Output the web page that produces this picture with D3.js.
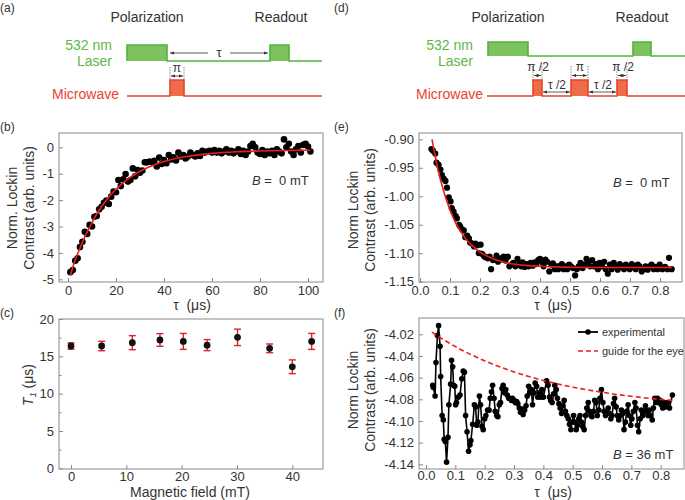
<!DOCTYPE html>
<html><head><meta charset="utf-8">
<script src="https://cdn.jsdelivr.net/npm/d3@7"></script>
<style>body{margin:0;background:#fff} text{font-family:"Liberation Sans",Arial,sans-serif}</style>
</head><body><svg id="c" width="685" height="500" xmlns="http://www.w3.org/2000/svg"></svg>
<script>
// ---------- DATA ----------
const t1Tau = [[1,-4.73],[2,-4.65],[3,-4.3],[4,-4.2],[5,-3.78],[6,-3.58],[7,-3.2],[8,-3.28],[9,-2.94],[10,-3.0],[11,-2.63],[12,-2.6],[13,-2.35],[14,-2.25],[15,-2.1],[16,-2.02],[17,-2.15],[18,-1.87],[19,-1.68],[20,-1.7],[21,-1.24],[22,-1.47],[23,-1.21],[24,-1.01],[25,-1.3],[26,-1.24],[27,-0.8],[28,-1.1],[29,-0.86],[30,-0.96],[31,-0.88],[32,-0.57],[33,-0.57],[34,-0.54],[35,-0.57],[36,-0.51],[37,-0.73],[38,-0.39],[39,-0.63],[40,-0.48],[41,-0.6],[42,-0.29],[43,-0.46],[44,-0.38],[45,-0.5],[46,-0.2],[47,-0.35],[48,-0.29],[49,-0.42],[50,-0.35],[51,-0.2],[52,-0.29],[53,-0.35],[54,-0.23],[55,-0.33],[56,-0.13],[57,-0.2],[58,-0.16],[59,-0.13],[60,-0.2],[61,-0.1],[62,-0.2],[63,-0.13],[64,-0.23],[65,-0.16],[66,-0.08],[67,-0.2],[68,-0.13],[69,-0.23],[70,-0.16],[71,-0.08],[72,-0.25],[73,-0.13],[74,-0.29],[75,-0.16],[76,0.05],[77,0.13],[78,0.0],[79,-0.2],[80,-0.25],[81,-0.1],[82,-0.29],[83,-0.16],[84,-0.23],[85,-0.13],[86,-0.29],[87,-0.08],[88,-0.16],[89,-0.23],[90,0.3],[91,0.0],[92,0.13],[93,-0.16],[94,-0.29],[95,-0.08],[96,0.05],[97,-0.2],[98,0.09],[99,0.13],[100,0.03],[101,-0.16]];
const t1FitX = [1,3,5,7.5,10,12.5,15,17.5,20,25,30,35,40,50,60,70,80,90,101];
const t1FitY = [-4.85,-4.27,-3.82,-3.30,-2.85,-2.45,-2.12,-1.83,-1.59,-1.20,-0.91,-0.70,-0.54,-0.34,-0.23,-0.17,-0.14,-0.12,-0.11];

const fieldMT = [0,5.54,11.08,16.08,20.3,24.6,30.1,35.9,40,43.5];
const t1Values = [16.38,16.38,16.83,17.19,17.0,16.5,17.54,16.07,13.6,17.0];
const t1Errors = [0.42,0.63,0.94,0.85,1.07,0.74,1.1,0.58,0.92,1.07];

const t2Tau = [[0.038,-0.917],[0.043,-0.920],[0.051,-0.925],[0.055,-0.941],[0.062,-0.945],[0.068,-0.953],[0.073,-0.963],[0.079,-0.969],[0.085,-0.973],[0.090,-0.985],[0.096,-1.002],[0.102,-1.009],[0.106,-1.021],[0.112,-1.027],[0.119,-1.035],[0.123,-1.039],[0.130,-1.050],[0.134,-1.053],[0.140,-1.058],[0.146,-1.060],[0.151,-1.072],[0.157,-1.069],[0.163,-1.074],[0.167,-1.081],[0.174,-1.083],[0.180,-1.088],[0.185,-1.083],[0.191,-1.086],[0.196,-1.100],[0.202,-1.085],[0.207,-1.101],[0.213,-1.105],[0.218,-1.107],[0.226,-1.109],[0.232,-1.106],[0.237,-1.128],[0.243,-1.112],[0.249,-1.111],[0.255,-1.104],[0.260,-1.115],[0.267,-1.109],[0.274,-1.111],[0.279,-1.106],[0.285,-1.113],[0.293,-1.106],[0.298,-1.123],[0.305,-1.120],[0.311,-1.117],[0.318,-1.123],[0.325,-1.110],[0.331,-1.119],[0.337,-1.123],[0.342,-1.116],[0.349,-1.124],[0.356,-1.119],[0.362,-1.123],[0.369,-1.117],[0.376,-1.122],[0.382,-1.116],[0.388,-1.119],[0.394,-1.112],[0.400,-1.110],[0.407,-1.116],[0.412,-1.123],[0.418,-1.111],[0.424,-1.115],[0.431,-1.132],[0.438,-1.120],[0.443,-1.118],[0.449,-1.128],[0.455,-1.123],[0.461,-1.128],[0.466,-1.122],[0.473,-1.119],[0.479,-1.128],[0.485,-1.123],[0.491,-1.128],[0.497,-1.120],[0.503,-1.123],[0.510,-1.126],[0.517,-1.139],[0.523,-1.128],[0.529,-1.123],[0.535,-1.117],[0.542,-1.126],[0.548,-1.120],[0.555,-1.110],[0.562,-1.115],[0.567,-1.123],[0.574,-1.112],[0.580,-1.123],[0.586,-1.119],[0.593,-1.128],[0.599,-1.117],[0.606,-1.123],[0.614,-1.115],[0.619,-1.128],[0.626,-1.136],[0.633,-1.120],[0.639,-1.128],[0.646,-1.117],[0.653,-1.123],[0.659,-1.129],[0.666,-1.119],[0.673,-1.123],[0.680,-1.128],[0.686,-1.120],[0.693,-1.123],[0.699,-1.128],[0.706,-1.119],[0.712,-1.123],[0.719,-1.128],[0.726,-1.120],[0.732,-1.123],[0.739,-1.132],[0.746,-1.128],[0.752,-1.123],[0.759,-1.129],[0.766,-1.123],[0.772,-1.120],[0.779,-1.128],[0.786,-1.124],[0.792,-1.128],[0.799,-1.120],[0.808,-1.128],[0.817,-1.124],[0.825,-1.128],[0.830,-1.108],[0.839,-1.128]];
const t2FitX = [0.04,0.06,0.08,0.10,0.12,0.15,0.20,0.25,0.30,0.40,0.50,0.60,0.84];
const t2FitY = [-0.900,-0.953,-0.993,-1.024,-1.048,-1.073,-1.098,-1.111,-1.118,-1.123,-1.1245,-1.125,-1.125];

const echoTau = [[0.023,-4.067],[0.025,-4.069],[0.031,-4.077],[0.034,-4.046],[0.039,-4.021],[0.043,-4.012],[0.048,-4.031],[0.050,-4.059],[0.055,-4.095],[0.059,-4.099],[0.062,-4.117],[0.066,-4.119],[0.070,-4.138],[0.075,-4.115],[0.078,-4.085],[0.084,-4.066],[0.087,-4.044],[0.091,-4.050],[0.094,-4.067],[0.098,-4.068],[0.101,-4.085],[0.104,-4.083],[0.110,-4.078],[0.116,-4.076],[0.122,-4.061],[0.127,-4.054],[0.131,-4.055],[0.135,-4.095],[0.140,-4.110],[0.145,-4.128],[0.150,-4.122],[0.153,-4.118],[0.159,-4.103],[0.165,-4.085],[0.169,-4.087],[0.173,-4.104],[0.177,-4.101],[0.182,-4.077],[0.186,-4.085],[0.191,-4.105],[0.195,-4.108],[0.200,-4.098],[0.204,-4.095],[0.210,-4.090],[0.215,-4.090],[0.219,-4.079],[0.223,-4.073],[0.227,-4.067],[0.232,-4.079],[0.236,-4.091],[0.241,-4.095],[0.245,-4.096],[0.250,-4.085],[0.254,-4.083],[0.259,-4.070],[0.263,-4.067],[0.268,-4.074],[0.272,-4.071],[0.277,-4.076],[0.282,-4.079],[0.286,-4.079],[0.291,-4.081],[0.295,-4.079],[0.300,-4.081],[0.304,-4.083],[0.309,-4.082],[0.313,-4.084],[0.318,-4.088],[0.322,-4.092],[0.327,-4.089],[0.331,-4.094],[0.336,-4.090],[0.341,-4.086],[0.345,-4.077],[0.350,-4.068],[0.354,-4.074],[0.359,-4.071],[0.363,-4.085],[0.368,-4.074],[0.372,-4.065],[0.377,-4.068],[0.381,-4.078],[0.386,-4.074],[0.391,-4.078],[0.395,-4.071],[0.400,-4.078],[0.411,-4.063],[0.416,-4.067],[0.421,-4.078],[0.425,-4.081],[0.430,-4.083],[0.435,-4.075],[0.439,-4.067],[0.444,-4.071],[0.448,-4.079],[0.453,-4.084],[0.457,-4.088],[0.462,-4.093],[0.466,-4.086],[0.471,-4.081],[0.475,-4.091],[0.480,-4.095],[0.485,-4.098],[0.489,-4.103],[0.494,-4.108],[0.498,-4.101],[0.503,-4.095],[0.507,-4.101],[0.512,-4.108],[0.516,-4.104],[0.521,-4.098],[0.525,-4.095],[0.530,-4.101],[0.534,-4.105],[0.539,-4.108],[0.544,-4.095],[0.548,-4.088],[0.553,-4.083],[0.557,-4.091],[0.562,-4.095],[0.566,-4.096],[0.571,-4.091],[0.575,-4.081],[0.580,-4.083],[0.584,-4.095],[0.589,-4.090],[0.593,-4.079],[0.598,-4.071],[0.603,-4.083],[0.607,-4.091],[0.612,-4.095],[0.616,-4.091],[0.621,-4.088],[0.625,-4.093],[0.630,-4.098],[0.634,-4.095],[0.639,-4.084],[0.643,-4.079],[0.648,-4.087],[0.652,-4.095],[0.657,-4.099],[0.662,-4.095],[0.666,-4.090],[0.671,-4.093],[0.675,-4.108],[0.680,-4.101],[0.684,-4.091],[0.689,-4.085],[0.693,-4.095],[0.698,-4.104],[0.702,-4.098],[0.707,-4.091],[0.712,-4.083],[0.716,-4.088],[0.721,-4.104],[0.725,-4.110],[0.730,-4.098],[0.734,-4.090],[0.739,-4.095],[0.743,-4.091],[0.748,-4.086],[0.752,-4.091],[0.757,-4.095],[0.761,-4.090],[0.766,-4.095],[0.771,-4.099],[0.775,-4.088],[0.780,-4.079],[0.784,-4.083],[0.789,-4.079],[0.793,-4.083],[0.798,-4.081],[0.802,-4.085],[0.807,-4.088],[0.811,-4.083],[0.816,-4.087],[0.823,-4.083],[0.830,-4.088],[0.840,-4.076]];
const guideX = [0.02,0.05,0.10,0.15,0.20,0.25,0.30,0.35,0.40,0.45,0.50,0.55,0.60,0.65,0.70,0.75,0.80,0.84];
const guideY = [-4.018,-4.0233,-4.0313,-4.0383,-4.0445,-4.0499,-4.0547,-4.0589,-4.0626,-4.0659,-4.0688,-4.0713,-4.0735,-4.0755,-4.0772,-4.0788,-4.0801,-4.0811];

const ticksB_x = [0,20,40,60,80,100], ticksB_y = [0,-1,-2,-3,-4,-5];
const ticksC_x = [0,10,20,30,40], ticksC_y = [0,5,10,15,20], ticksC_yMinor = [2.5,7.5,12.5,17.5];
const ticksE_x = [0,0.1,0.2,0.3,0.4,0.5,0.6,0.7,0.8], ticksE_y = [-0.90,-0.95,-1.00,-1.05,-1.10,-1.15];
const ticksF_x = [0,0.1,0.2,0.3,0.4,0.5,0.6,0.7,0.8], ticksF_y = [-4.02,-4.04,-4.06,-4.08,-4.10,-4.12,-4.14];

// ---------- DRAW ----------
const svg = d3.select('#c');
svg.append('rect').attr('width',685).attr('height',500).attr('fill','#fff');
const FONT = '"Liberation Sans",Arial,sans-serif';
const TXT = '#333';
const FRAME = '#8a8a8a';
const RED = '#ee1c1c';

function txt(x,y,s,o={}){
  const t = svg.append('text').attr('x',x).attr('y',y).attr('font-size',o.size||14)
    .attr('fill',o.fill||TXT).attr('text-anchor',o.anchor||'start').attr('font-family',FONT).text(s);
  if(o.rot) t.attr('transform',`rotate(-90,${x},${y})`);
  if(o.italic) t.attr('font-style','italic');
  return t;
}

function frame(f, x, y, xt, yt, xf, yf, yMinor, xPad){
  svg.append('rect').attr('x',f[0]).attr('y',f[1]).attr('width',f[2]-f[0]).attr('height',f[3]-f[1])
    .attr('fill','none').attr('stroke',FRAME).attr('stroke-width',1);
  const xa = d3.axisBottom(x).tickValues(xt).tickFormat(xf).tickSizeInner(-4).tickSizeOuter(0).tickPadding(xPad);
  const ya = d3.axisLeft(y).tickValues(yt).tickFormat(yf).tickSizeInner(-4).tickSizeOuter(0).tickPadding(5);
  const gx = svg.append('g').attr('transform',`translate(0,${f[3]})`).call(xa);
  const gy = svg.append('g').attr('transform',`translate(${f[0]},0)`).call(ya);
  if(yMinor){
    svg.append('g').attr('transform',`translate(${f[0]},0)`)
      .call(d3.axisLeft(y).tickValues(yMinor).tickFormat('').tickSizeInner(-2.5).tickSizeOuter(0))
      .call(g=>{g.select('.domain').remove(); g.selectAll('line').attr('stroke',FRAME);});
  }
  [gx,gy].forEach(g=>{
    g.select('.domain').remove();
    g.attr('font-family',FONT).attr('font-size',13);
    g.selectAll('line').attr('stroke',FRAME);
    g.selectAll('text').attr('fill',TXT);
  });
}

// ===== Panel (a) =====
const GREEN='#52b43c', GFILL='#7cc360', MW='#e8432d', MWFILL='#ec6d48';
txt(0,12,'(a)',{size:12});
txt(147,22,'Polarization',{anchor:'middle'});
txt(281,22,'Readout',{anchor:'middle'});
txt(112,50,'532 nm',{anchor:'end',fill:'#5cb845'});
txt(112,66,'Laser',{anchor:'end',fill:'#5cb845'});
txt(119,99,'Microwave',{anchor:'end',fill:MW});

function pulseTrain(base, top, x0, x1, pulses, stroke, fill){
  pulses.forEach(p=>svg.append('rect').attr('x',p[0]).attr('y',top).attr('width',p[1]-p[0]).attr('height',base-top).attr('fill',fill));
  let d = `M${x0},${base}`;
  pulses.forEach(p=>{ d += `H${p[0]}V${top}H${p[1]}V${base}`; });
  d += `H${x1}`;
  svg.append('path').attr('d',d).attr('fill','none').attr('stroke',stroke).attr('stroke-width',1.6);
}
const defs = svg.append('defs');
defs.append('marker').attr('id','ah').attr('viewBox','0 0 10 10').attr('refX',10).attr('refY',5)
  .attr('markerWidth',5).attr('markerHeight',5).attr('orient','auto-start-reverse')
  .append('path').attr('d','M0,1.5L10,5L0,8.5z').attr('fill','#333');
function arrow(x0,x1,y,both){
  const l = svg.append('line').attr('x1',x0).attr('x2',x1).attr('y1',y).attr('y2',y).attr('stroke','#333').attr('stroke-width',0.8).attr('marker-end','url(#ah)');
  if(both) l.attr('marker-start','url(#ah)');
}
function dotted(x,y0,y1){
  svg.append('line').attr('x1',x).attr('x2',x).attr('y1',y0).attr('y2',y1).attr('stroke','#555').attr('stroke-width',0.7).attr('stroke-dasharray','1.5,1.2');
}

pulseTrain(61,45,127,322,[[127,167],[270,289]],GREEN,GFILL);
arrow(208,170,53); arrow(230,268,53);
txt(219,57,'τ',{anchor:'middle',size:13});
pulseTrain(96,80,127,322,[[170,184]],MW,MWFILL);
dotted(170,67,80); dotted(184,67,80);
arrow(171,183,76,true);
txt(177,72,'π',{anchor:'middle',size:12});

// ===== Panel (d) =====
txt(334,12,'(d)',{size:12});
txt(508,22,'Polarization',{anchor:'middle'});
txt(642,22,'Readout',{anchor:'middle'});
txt(473,50,'532 nm',{anchor:'end',fill:'#5cb845'});
txt(473,66,'Laser',{anchor:'end',fill:'#5cb845'});
txt(483,99,'Microwave',{anchor:'end',fill:MW});
pulseTrain(56,42,488,685,[[488,528],[633,651]],GREEN,GFILL);
const dP = [[533,542],[571,588],[617,627]];
pulseTrain(96,80,487,685,dP,MW,MWFILL);
dP.forEach(p=>{ dotted(p[0],66,80); dotted(p[1],66,80); arrow(p[0]+1,p[1]-1,75.5,true); });
txt(538,71,'π /2',{anchor:'middle',size:12});
txt(580,71,'π',{anchor:'middle',size:12});
txt(623,71,'π /2',{anchor:'middle',size:12});
arrow(543,570,92,true); arrow(589,616,92,true);
txt(557,89,'τ /2',{anchor:'middle',size:12});
txt(603,89,'τ /2',{anchor:'middle',size:12});

// ===== Panel (b) =====
txt(0,131,'(b)',{size:12});
const fB=[59,133,323,282];
const xB = d3.scaleLinear().domain([0,100]).range([68,308]);
const yB = d3.scaleLinear().domain([0,-5]).range([147.3,279.3]);
frame(fB,xB,yB,ticksB_x,ticksB_y,d3.format('d'),d=>d===0?'0':String(d),null,4);
svg.append('g').selectAll('circle').data(t1Tau).join('circle')
  .attr('cx',d=>xB(d[0])).attr('cy',d=>yB(d[1])).attr('r',3.3).attr('fill','#000');
svg.append('path').datum(t1FitX.map((x,i)=>[x,t1FitY[i]]))
  .attr('d',d3.line().x(d=>xB(d[0])).y(d=>yB(d[1])).curve(d3.curveMonotoneX))
  .attr('fill','none').attr('stroke',RED).attr('stroke-width',1.6);
txt(17,208,'Norm. Lockin',{anchor:'middle',rot:true});
txt(34,208,'Contrast (arb. units)',{anchor:'middle',rot:true});
const bB = txt(252,185,'',{size:13}); bB.append('tspan').attr('font-style','italic').text('B'); bB.append('tspan').text('\u00a0=\u00a0\u00a00 mT');
txt(192,310,'τ\u00a0\u00a0(μs)',{anchor:'middle'});

// ===== Panel (c) =====
txt(0,317,'(c)',{size:12});
const fC=[59,319,323,469];
const xC = d3.scaleLinear().domain([0,40]).range([71,292.3]);
const yC = d3.scaleLinear().domain([0,20]).range([468.3,319]);
frame(fC,xC,yC,ticksC_x,ticksC_y,d3.format('d'),d3.format('d'),ticksC_yMinor,3);
const gC = svg.append('g');
fieldMT.forEach((f,i)=>{
  const x=xC(f), y0=yC(t1Values[i]-t1Errors[i]), y1=yC(t1Values[i]+t1Errors[i]);
  gC.append('line').attr('x1',x).attr('x2',x).attr('y1',y0).attr('y2',y1).attr('stroke','#e0202a').attr('stroke-width',1.4);
  [y0,y1].forEach(yy=>gC.append('line').attr('x1',x-3.5).attr('x2',x+3.5).attr('y1',yy).attr('y2',yy).attr('stroke','#e0202a').attr('stroke-width',1.4));
});
gC.selectAll('circle').data(fieldMT).join('circle').attr('cx',d=>xC(d)).attr('cy',(d,i)=>yC(t1Values[i])).attr('r',3.4).attr('fill','#111');
const tl = svg.append('text').attr('font-family',FONT).attr('font-size',14).attr('fill',TXT).attr('text-anchor','middle')
  .attr('transform','translate(33,385) rotate(-90)');
tl.append('tspan').attr('font-style','italic').text('T');
tl.append('tspan').attr('font-style','italic').attr('font-size',9).attr('dy',3).text('1');
tl.append('tspan').attr('dy',-3).text(' (μs)');
txt(190,497,'Magnetic field (mT)',{anchor:'middle'});

// ===== Panel (e) =====
txt(334,131,'(e)',{size:12});
const fE=[419,133,682,282];
const xE = d3.scaleLinear().domain([0,0.8]).range([420,660]);
const yE = d3.scaleLinear().domain([-0.90,-1.15]).range([139.3,281.7]);
frame(fE,xE,yE,ticksE_x,ticksE_y,d3.format('.1f'),d=>d3.format('.2f')(d).replace('−','-'),null,4);
svg.append('g').selectAll('circle').data(t2Tau).join('circle')
  .attr('cx',d=>xE(d[0])).attr('cy',d=>yE(d[1])).attr('r',3.1).attr('fill','#000');
svg.append('path').datum(t2FitX.map((x,i)=>[x,t2FitY[i]]))
  .attr('d',d3.line().x(d=>xE(d[0])).y(d=>yE(d[1])).curve(d3.curveMonotoneX))
  .attr('fill','none').attr('stroke',RED).attr('stroke-width',1.6);
txt(358,210,'Norm Lockin',{anchor:'middle',rot:true});
txt(375,210,'Contrast (arb. units)',{anchor:'middle',rot:true});
const bE = txt(613,187,'',{size:13}); bE.append('tspan').attr('font-style','italic').text('B'); bE.append('tspan').text('\u00a0=\u00a0\u00a00 mT');
txt(553,310,'τ\u00a0\u00a0(μs)',{anchor:'middle'});

// ===== Panel (f) =====
txt(334,317,'(f)',{size:12});
const fF=[419,318,684,469];
const xF = d3.scaleLinear().domain([0,0.8]).range([426,660.7]);
const yF = d3.scaleLinear().domain([-4.02,-4.14]).range([334.3,464.3]);
frame(fF,xF,yF,ticksF_x,ticksF_y,d3.format('.1f'),d=>d3.format('.2f')(d).replace('−','-'),null,2);
svg.append('path').datum(echoTau)
  .attr('d',d3.line().x(d=>xF(d[0])).y(d=>yF(d[1])))
  .attr('fill','none').attr('stroke','#000').attr('stroke-width',1.6);
svg.append('g').selectAll('circle').data(echoTau).join('circle')
  .attr('cx',d=>xF(d[0])).attr('cy',d=>yF(d[1])).attr('r',2.8).attr('fill','#000');
svg.append('path').datum(guideX.map((x,i)=>[x,guideY[i]]))
  .attr('d',d3.line().x(d=>xF(d[0])).y(d=>yF(d[1])).curve(d3.curveMonotoneX))
  .attr('fill','none').attr('stroke',RED).attr('stroke-width',1.6).attr('stroke-dasharray','5,3');
// legend
svg.append('line').attr('x1',578).attr('x2',598).attr('y1',332).attr('y2',332).attr('stroke','#000').attr('stroke-width',1.8);
svg.append('circle').attr('cx',588).attr('cy',332).attr('r',2.8).attr('fill','#000');
txt(602,336,'experimental',{size:11});
svg.append('line').attr('x1',578).attr('x2',598).attr('y1',351).attr('y2',351).attr('stroke',RED).attr('stroke-width',1.6).attr('stroke-dasharray','5,3');
txt(602,355,'guide for the eye',{size:11});
txt(358,390,'Norm Lockin',{anchor:'middle',rot:true});
txt(375,390,'Contrast (arb. units)',{anchor:'middle',rot:true});
const bF = txt(613,459,'',{size:13}); bF.append('tspan').attr('font-style','italic').text('B'); bF.append('tspan').text('\u00a0=\u00a036 mT');
txt(553,497,'τ\u00a0\u00a0(μs)',{anchor:'middle'});
</script></body></html>
